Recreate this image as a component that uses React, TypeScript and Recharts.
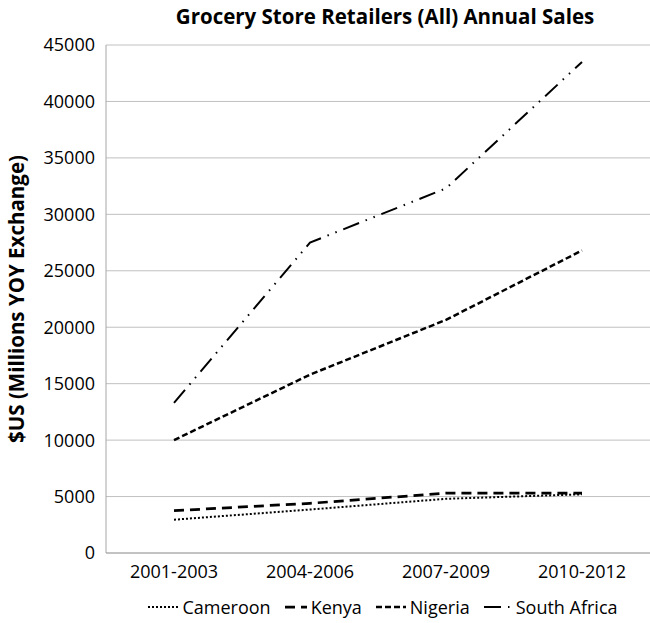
import React from 'react';
import { LineChart, Line, XAxis, YAxis, CartesianGrid } from 'recharts';

const categories = ['2001-2003', '2004-2006', '2007-2009', '2010-2012'];
const cameroon = [2950, 3850, 4800, 5200];
const kenya = [3750, 4400, 5300, 5300];
const nigeria = [10000, 15800, 20650, 26800];
const southAfrica = [13300, 27500, 32300, 43500];
const yTicks = [0, 5000, 10000, 15000, 20000, 25000, 30000, 35000, 40000, 45000];
const seriesNames = ['Cameroon', 'Kenya', 'Nigeria', 'South Africa'];
const seriesValues = [cameroon, kenya, nigeria, southAfrica];

const title = 'Grocery Store Retailers (All) Annual Sales';
const yLabel = '$US (Millions YOY Exchange)';

const styles = [
  { dash: '2 2', width: 2, sample: 30 },
  { dash: '10 6', width: 2.75, sample: 22 },
  { dash: '6 3', width: 2.5, sample: 30 },
  { dash: '17 7 1.5 7 1.5 7', width: 2, sample: 28 },
];

const data = categories.map((c, i) => {
  const row: Record<string, string | number> = { category: c };
  seriesNames.forEach((n, j) => {
    row[n] = seriesValues[j][i];
  });
  return row;
});

const FONT = '"Open Sans", sans-serif';

const YLabel = (props: any) => {
  const vb = props.viewBox || {};
  const cy = vb.y + vb.height / 2;
  const cx = 16;
  return (
    <text
      x={cx}
      y={cy}
      transform={`rotate(-90 ${cx} ${cy})`}
      textAnchor="middle"
      dominantBaseline="central"
      fontFamily={FONT}
      fontWeight={700}
      fontSize={20.5}
      fill="#000"
    >
      {yLabel}
    </text>
  );
};

export default function App() {
  return (
    <div style={{ position: 'absolute', left: 0, top: 0, width: 650, height: 623, background: '#fff' }}>
      <div
        style={{
          position: 'absolute',
          left: 0,
          top: 2,
          width: 770,
          textAlign: 'center',
          fontFamily: FONT,
          fontWeight: 700,
          fontSize: 20.5,
          color: '#000',
          whiteSpace: 'nowrap',
        }}
      >
        {title}
      </div>
      <LineChart
        width={650}
        height={623}
        data={data}
        margin={{ top: 45, right: 0, bottom: 0, left: 0 }}
      >
        <CartesianGrid vertical={false} stroke="#c0c0c0" strokeWidth={1} />
        <XAxis
          dataKey="category"
          padding={{ left: 68, right: 68 }}
          axisLine={{ stroke: '#a6a6a6' }}
          tickLine={false}
          tickSize={0}
          tickMargin={12}
          tick={{ fontFamily: FONT, fontSize: 18, fill: '#000' }}
          height={70}
        />
        <YAxis
          width={106}
          domain={[0, 45000]}
          ticks={yTicks}
          interval={0}
          axisLine={{ stroke: '#a6a6a6' }}
          tickLine={false}
          tickSize={0}
          tickMargin={11}
          tick={{ fontFamily: FONT, fontSize: 18, fill: '#000' }}
          label={<YLabel />}
        />
        {seriesNames.map((n, j) => (
          <Line
            key={n}
            type="linear"
            dataKey={n}
            stroke="#000"
            strokeWidth={styles[j].width}
            strokeDasharray={styles[j].dash}
            dot={false}
            activeDot={false}
            isAnimationActive={false}
          />
        ))}
      </LineChart>
      <div
        style={{
          position: 'absolute',
          left: 0,
          top: 595,
          width: 766,
          display: 'flex',
          justifyContent: 'center',
          alignItems: 'center',
          fontFamily: FONT,
          fontSize: 18,
          color: '#000',
          whiteSpace: 'nowrap',
        }}
      >
        {seriesNames.map((n, j) => (
          <div key={n} style={{ display: 'flex', alignItems: 'center', marginRight: j < 3 ? 14 : 0 }}>
            <svg width={styles[j].sample} height={10} style={{ marginRight: 4 }}>
              <line
                x1={0}
                y1={5}
                x2={styles[j].sample}
                y2={5}
                stroke="#000"
                strokeWidth={styles[j].width}
                strokeDasharray={styles[j].dash}
              />
            </svg>
            <span>{n}</span>
          </div>
        ))}
      </div>
    </div>
  );
}
